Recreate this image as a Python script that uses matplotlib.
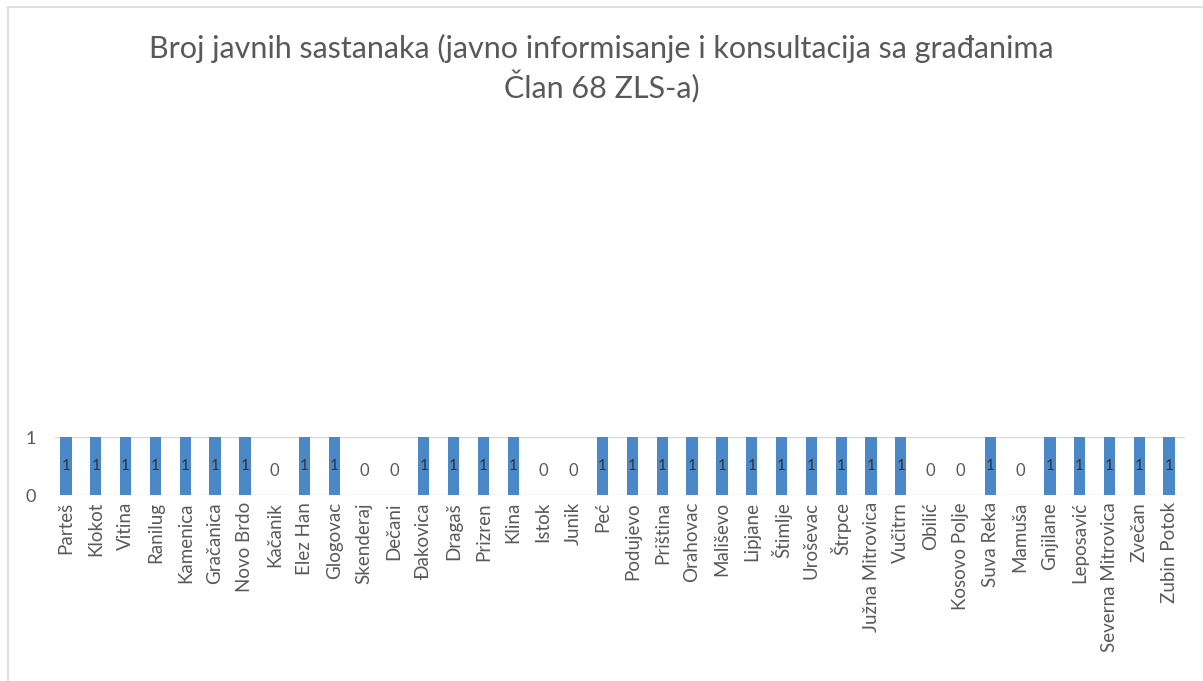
import matplotlib.pyplot as plt
from matplotlib.lines import Line2D

# Opštine i broj javnih sastanaka
opstine = [
    "Parteš", "Klokot", "Vitina", "Ranilug", "Kamenica", "Gračanica", "Novo Brdo",
    "Kačanik", "Elez Han", "Glogovac", "Skenderaj", "Dečani", "Đakovica", "Dragaš",
    "Prizren", "Klina", "Istok", "Junik", "Peć", "Podujevo", "Priština", "Orahovac",
    "Mališevo", "Lipjane", "Štimlje", "Uroševac", "Štrpce", "Južna Mitrovica",
    "Vučitrn", "Obilić", "Kosovo Polje", "Suva Reka", "Mamuša", "Gnjilane",
    "Leposavić", "Severna Mitrovica", "Zvečan", "Zubin Potok",
]
sastanci = [1, 1, 1, 1, 1, 1, 1, 0, 1, 1, 0, 0, 1, 1, 1, 1, 0, 0, 1, 1, 1, 1,
            1, 1, 1, 1, 1, 1, 1, 0, 0, 1, 0, 1, 1, 1, 1, 1]
y_oznake = [0, 1]

plt.rcParams["font.family"] = ["Lato", "DejaVu Sans"]
siva = "#595959"

fig = plt.figure(figsize=(12.03, 6.81), dpi=100)
ax = fig.add_axes([0.0457, 0.273, 0.9393, 0.085])

x = list(range(len(opstine)))
ax.bar(x, sastanci, width=0.38, color="#4a88c8", zorder=3)

# oznake vrijednosti
for xi, v in zip(x, sastanci):
    if v > 0:
        ax.text(xi, v / 2, str(v), ha="center", va="center", fontsize=11,
                color="#333333", zorder=4)
    else:
        ax.text(xi, 0.42, str(v), ha="center", va="center", fontsize=12,
                color=siva, zorder=4)

ax.set_xlim(-0.37, len(opstine) - 0.47)
ax.set_ylim(0, 1)
ax.set_yticks(y_oznake)
ax.set_yticklabels([str(v) for v in y_oznake], fontsize=13, color=siva)
ax.set_xticks(x)
ax.set_xticklabels(opstine, rotation=90, fontsize=13.5, color=siva)
ax.tick_params(length=0)
ax.tick_params(axis="x", pad=5)
ax.tick_params(axis="y", pad=14)
ax.grid(axis="y", color="#d9d9d9", linewidth=1, zorder=0)
for s in ax.spines.values():
    s.set_visible(False)

fig.suptitle("Broj javnih sastanaka (javno informisanje i konsultacija sa građanima\nČlan 68 ZLS-a)",
             y=0.95, fontsize=22, color=siva, linespacing=1.25)

# okvir grafikona
fig.add_artist(Line2D([0.0066, 0.0066], [0, 0.99], color="#d9d9d9", lw=1.2,
                      transform=fig.transFigure))
fig.add_artist(Line2D([0.0066, 1], [0.99, 0.99], color="#d9d9d9", lw=1.2,
                      transform=fig.transFigure))

fig.savefig("out.png", dpi=100)
